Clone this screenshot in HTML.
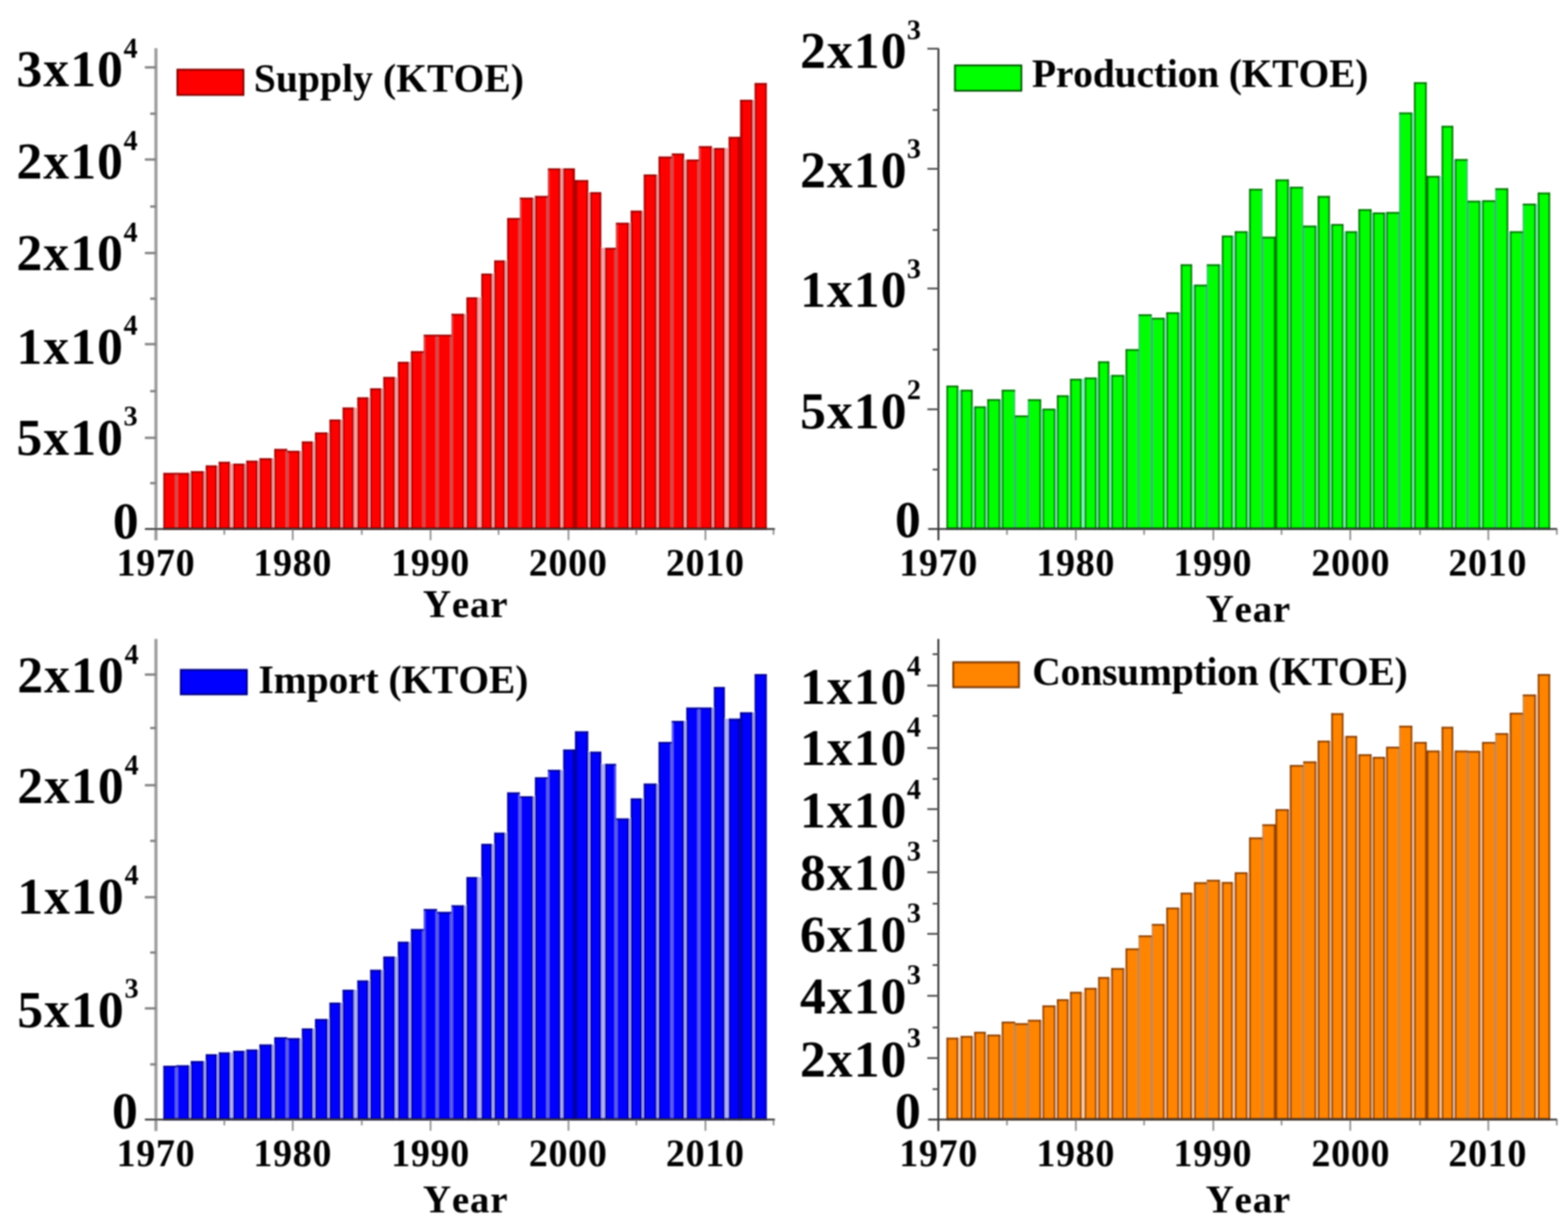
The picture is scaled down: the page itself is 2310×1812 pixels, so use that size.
<!DOCTYPE html>
<html lang="en"><head><meta charset="utf-8"><title>Energy supply, production, import and consumption (KTOE)</title>
<style>
html,body{margin:0;padding:0;background:#fff;}
body{width:2310px;height:1812px;overflow:hidden;}
svg{display:block;}
text{font-kerning:none;font-variant-ligatures:none;font-family:"Liberation Serif",serif;font-weight:bold;fill:#000;}
.yl{font-size:76px;letter-spacing:1.6px;}
.sp{font-size:41.5px;}
.xl{font-size:56px;letter-spacing:1px;text-anchor:middle;}
.ti{font-size:57.4px;letter-spacing:1.2px;text-anchor:middle;}
.lg{font-size:58.2px;}
</style></head><body>
<svg width="2310" height="1812" viewBox="0 0 2310 1812">
<defs><filter id="soft" x="0" y="0" width="2310" height="1812" filterUnits="userSpaceOnUse"><feGaussianBlur stdDeviation="0.85"/></filter><filter id="softb" x="0" y="0" width="2310" height="1812" filterUnits="userSpaceOnUse"><feGaussianBlur stdDeviation="0.8"/></filter></defs>
<rect x="0" y="0" width="2310" height="1812" fill="#ffffff"/>
<g id="c1">
<g filter="url(#softb)">
<g fill="#ffa0a0">
<rect x="278.75" y="696.75" width="2.5" height="82.55"/>
<rect x="300" y="694.25" width="3.25" height="85.05"/>
<rect x="319.25" y="685.75" width="3.25" height="93.55"/>
<rect x="338.75" y="683" width="5" height="96.3"/>
<rect x="360" y="683" width="3" height="96.3"/>
<rect x="379.25" y="678.75" width="3.25" height="100.55"/>
<rect x="400.75" y="675" width="3.5" height="104.3"/>
<rect x="441.25" y="664.25" width="3.75" height="115.05"/>
<rect x="460.75" y="650.5" width="3.5" height="128.8"/>
<rect x="482.5" y="637" width="3.25" height="142.3"/>
<rect x="501.75" y="618" width="3.25" height="161.3"/>
<rect x="521" y="600.5" width="5.75" height="178.8"/>
<rect x="542.5" y="585.5" width="3.25" height="193.8"/>
<rect x="561.75" y="572" width="3.25" height="207.3"/>
<rect x="581.75" y="555.5" width="4.5" height="223.8"/>
<rect x="602" y="533" width="3.75" height="246.3"/>
<rect x="683.75" y="462.5" width="3.75" height="316.8"/>
<rect x="703" y="438" width="6.25" height="341.3"/>
<rect x="724.5" y="403" width="3.75" height="376.3"/>
<rect x="743.75" y="383.75" width="3.75" height="395.55"/>
<rect x="785" y="291.25" width="3.25" height="488.05"/>
<rect x="825.5" y="248" width="4.5" height="531.3"/>
<rect x="866.25" y="283.25" width="3.25" height="496.05"/>
<rect x="885.5" y="365" width="5.75" height="414.3"/>
<rect x="926.25" y="328.25" width="3.25" height="451.05"/>
<rect x="945.5" y="310.5" width="3.25" height="468.8"/>
<rect x="967" y="257" width="3.5" height="522.3"/>
<rect x="1007.5" y="235" width="3.75" height="544.3"/>
<rect x="1048.75" y="218" width="3.25" height="561.3"/>
<rect x="1067.5" y="218" width="6.25" height="561.3"/>
<rect x="1108.75" y="147" width="3.25" height="632.3"/>
</g>
<g fill="#ff0000">
<rect x="240.75" y="696.75" width="19.12" height="82.55"/>
<rect x="259.88" y="696.75" width="19.07" height="82.55"/>
<rect x="281.05" y="694.25" width="19.15" height="85.05"/>
<rect x="303.05" y="685.75" width="16.4" height="93.55"/>
<rect x="322.3" y="680.5" width="16.65" height="98.8"/>
<rect x="343.55" y="683" width="16.65" height="96.3"/>
<rect x="362.8" y="678.75" width="16.65" height="100.55"/>
<rect x="382.3" y="675" width="18.65" height="104.3"/>
<rect x="404.05" y="661.5" width="19.07" height="117.8"/>
<rect x="423.12" y="664.25" width="18.32" height="115.05"/>
<rect x="444.8" y="650.5" width="16.15" height="128.8"/>
<rect x="464.05" y="637" width="18.65" height="142.3"/>
<rect x="485.55" y="618" width="16.4" height="161.3"/>
<rect x="504.8" y="600.5" width="16.4" height="178.8"/>
<rect x="526.55" y="585.5" width="16.15" height="193.8"/>
<rect x="545.55" y="572" width="16.4" height="207.3"/>
<rect x="564.8" y="555.5" width="17.15" height="223.8"/>
<rect x="586.05" y="533" width="16.15" height="246.3"/>
<rect x="605.55" y="517.5" width="18.83" height="261.8"/>
<rect x="624.38" y="493" width="19.62" height="286.3"/>
<rect x="644" y="493" width="21.12" height="286.3"/>
<rect x="665.12" y="462.5" width="18.83" height="316.8"/>
<rect x="687.3" y="438" width="15.9" height="341.3"/>
<rect x="709.05" y="403" width="15.65" height="376.3"/>
<rect x="728.05" y="383.75" width="15.9" height="395.55"/>
<rect x="747.3" y="321.25" width="18.58" height="458.05"/>
<rect x="765.88" y="291.25" width="19.33" height="488.05"/>
<rect x="788.05" y="288.75" width="19.08" height="490.55"/>
<rect x="807.12" y="248" width="18.58" height="531.3"/>
<rect x="829.8" y="248" width="17.2" height="531.3"/>
<rect x="847" y="265.5" width="19.45" height="513.8"/>
<rect x="869.3" y="283.25" width="16.4" height="496.05"/>
<rect x="891.05" y="365" width="16.45" height="414.3"/>
<rect x="907.5" y="328.25" width="18.95" height="451.05"/>
<rect x="929.3" y="310.5" width="16.4" height="468.8"/>
<rect x="948.55" y="257" width="18.65" height="522.3"/>
<rect x="970.3" y="230.75" width="19.45" height="548.55"/>
<rect x="989.75" y="226.25" width="17.95" height="553.05"/>
<rect x="1011.05" y="235" width="18.58" height="544.3"/>
<rect x="1029.62" y="215.5" width="19.33" height="563.8"/>
<rect x="1051.8" y="218" width="15.9" height="561.3"/>
<rect x="1073.55" y="201.75" width="16.83" height="577.55"/>
<rect x="1090.38" y="147" width="18.58" height="632.3"/>
<rect x="1111.8" y="122.5" width="17.7" height="656.8"/>
</g>
<g fill="#d05050" opacity="0.9">
<rect x="257.68" y="696.75" width="4.4" height="82.55"/>
<rect x="420.93" y="664.25" width="4.4" height="115.05"/>
<rect x="420.93" y="661.5" width="2.2" height="2.75"/>
<rect x="622.17" y="517.5" width="4.4" height="261.8"/>
<rect x="624.38" y="493" width="2.2" height="24.5"/>
<rect x="641.8" y="493" width="4.4" height="286.3"/>
<rect x="662.92" y="493" width="4.4" height="286.3"/>
<rect x="665.12" y="462.5" width="2.2" height="30.5"/>
<rect x="763.67" y="321.25" width="4.4" height="458.05"/>
<rect x="765.88" y="291.25" width="2.2" height="30"/>
<rect x="804.92" y="288.75" width="4.4" height="490.55"/>
<rect x="807.12" y="248" width="2.2" height="40.75"/>
<rect x="905.3" y="365" width="4.4" height="414.3"/>
<rect x="907.5" y="328.25" width="2.2" height="36.75"/>
<rect x="987.55" y="230.75" width="4.4" height="548.55"/>
<rect x="989.75" y="226.25" width="2.2" height="4.5"/>
<rect x="1027.42" y="235" width="4.4" height="544.3"/>
<rect x="1029.62" y="215.5" width="2.2" height="19.5"/>
</g>
<g fill="#960000">
<rect x="843.4" y="265.5" width="7.2" height="513.8" opacity="0.7"/>
<rect x="843.4" y="248" width="3.6" height="17.5" opacity="0.7"/>
<rect x="1086.78" y="201.75" width="7.2" height="577.55" opacity="0.7"/>
<rect x="1090.38" y="147" width="3.6" height="54.75" opacity="0.7"/>
<rect x="240.75" y="696.75" width="2.4" height="82.55" opacity="0.9"/>
<rect x="240.75" y="696.75" width="19.12" height="2.6" opacity="0.95"/>
<rect x="276.55" y="696.75" width="2.4" height="82.55" opacity="0.9"/>
<rect x="259.88" y="696.75" width="19.07" height="2.6" opacity="0.95"/>
<rect x="281.05" y="694.25" width="2.4" height="85.05" opacity="0.9"/>
<rect x="297.8" y="694.25" width="2.4" height="85.05" opacity="0.9"/>
<rect x="281.05" y="694.25" width="19.15" height="2.6" opacity="0.95"/>
<rect x="303.05" y="685.75" width="2.4" height="93.55" opacity="0.9"/>
<rect x="317.05" y="685.75" width="2.4" height="93.55" opacity="0.9"/>
<rect x="303.05" y="685.75" width="16.4" height="2.6" opacity="0.95"/>
<rect x="322.3" y="680.5" width="2.4" height="98.8" opacity="0.9"/>
<rect x="336.55" y="680.5" width="2.4" height="98.8" opacity="0.9"/>
<rect x="322.3" y="680.5" width="16.65" height="2.6" opacity="0.95"/>
<rect x="343.55" y="683" width="2.4" height="96.3" opacity="0.9"/>
<rect x="357.8" y="683" width="2.4" height="96.3" opacity="0.9"/>
<rect x="343.55" y="683" width="16.65" height="2.6" opacity="0.95"/>
<rect x="362.8" y="678.75" width="2.4" height="100.55" opacity="0.9"/>
<rect x="377.05" y="678.75" width="2.4" height="100.55" opacity="0.9"/>
<rect x="362.8" y="678.75" width="16.65" height="2.6" opacity="0.95"/>
<rect x="382.3" y="675" width="2.4" height="104.3" opacity="0.9"/>
<rect x="398.55" y="675" width="2.4" height="104.3" opacity="0.9"/>
<rect x="382.3" y="675" width="18.65" height="2.6" opacity="0.95"/>
<rect x="404.05" y="661.5" width="2.4" height="117.8" opacity="0.9"/>
<rect x="404.05" y="661.5" width="19.07" height="2.6" opacity="0.95"/>
<rect x="439.05" y="664.25" width="2.4" height="115.05" opacity="0.9"/>
<rect x="423.12" y="664.25" width="18.32" height="2.6" opacity="0.95"/>
<rect x="444.8" y="650.5" width="2.4" height="128.8" opacity="0.9"/>
<rect x="458.55" y="650.5" width="2.4" height="128.8" opacity="0.9"/>
<rect x="444.8" y="650.5" width="16.15" height="2.6" opacity="0.95"/>
<rect x="464.05" y="637" width="2.4" height="142.3" opacity="0.9"/>
<rect x="480.3" y="637" width="2.4" height="142.3" opacity="0.9"/>
<rect x="464.05" y="637" width="18.65" height="2.6" opacity="0.95"/>
<rect x="485.55" y="618" width="2.4" height="161.3" opacity="0.9"/>
<rect x="499.55" y="618" width="2.4" height="161.3" opacity="0.9"/>
<rect x="485.55" y="618" width="16.4" height="2.6" opacity="0.95"/>
<rect x="504.8" y="600.5" width="2.4" height="178.8" opacity="0.9"/>
<rect x="518.8" y="600.5" width="2.4" height="178.8" opacity="0.9"/>
<rect x="504.8" y="600.5" width="16.4" height="2.6" opacity="0.95"/>
<rect x="526.55" y="585.5" width="2.4" height="193.8" opacity="0.9"/>
<rect x="540.3" y="585.5" width="2.4" height="193.8" opacity="0.9"/>
<rect x="526.55" y="585.5" width="16.15" height="2.6" opacity="0.95"/>
<rect x="545.55" y="572" width="2.4" height="207.3" opacity="0.9"/>
<rect x="559.55" y="572" width="2.4" height="207.3" opacity="0.9"/>
<rect x="545.55" y="572" width="16.4" height="2.6" opacity="0.95"/>
<rect x="564.8" y="555.5" width="2.4" height="223.8" opacity="0.9"/>
<rect x="579.55" y="555.5" width="2.4" height="223.8" opacity="0.9"/>
<rect x="564.8" y="555.5" width="17.15" height="2.6" opacity="0.95"/>
<rect x="586.05" y="533" width="2.4" height="246.3" opacity="0.9"/>
<rect x="599.8" y="533" width="2.4" height="246.3" opacity="0.9"/>
<rect x="586.05" y="533" width="16.15" height="2.6" opacity="0.95"/>
<rect x="605.55" y="517.5" width="2.4" height="261.8" opacity="0.9"/>
<rect x="605.55" y="517.5" width="18.83" height="2.6" opacity="0.95"/>
<rect x="624.38" y="493" width="19.62" height="2.6" opacity="0.95"/>
<rect x="644" y="493" width="21.12" height="2.6" opacity="0.95"/>
<rect x="681.55" y="462.5" width="2.4" height="316.8" opacity="0.9"/>
<rect x="665.12" y="462.5" width="18.83" height="2.6" opacity="0.95"/>
<rect x="687.3" y="438" width="2.4" height="341.3" opacity="0.9"/>
<rect x="700.8" y="438" width="2.4" height="341.3" opacity="0.9"/>
<rect x="687.3" y="438" width="15.9" height="2.6" opacity="0.95"/>
<rect x="709.05" y="403" width="2.4" height="376.3" opacity="0.9"/>
<rect x="722.3" y="403" width="2.4" height="376.3" opacity="0.9"/>
<rect x="709.05" y="403" width="15.65" height="2.6" opacity="0.95"/>
<rect x="728.05" y="383.75" width="2.4" height="395.55" opacity="0.9"/>
<rect x="741.55" y="383.75" width="2.4" height="395.55" opacity="0.9"/>
<rect x="728.05" y="383.75" width="15.9" height="2.6" opacity="0.95"/>
<rect x="747.3" y="321.25" width="2.4" height="458.05" opacity="0.9"/>
<rect x="747.3" y="321.25" width="18.58" height="2.6" opacity="0.95"/>
<rect x="782.8" y="291.25" width="2.4" height="488.05" opacity="0.9"/>
<rect x="765.88" y="291.25" width="19.33" height="2.6" opacity="0.95"/>
<rect x="788.05" y="288.75" width="2.4" height="490.55" opacity="0.9"/>
<rect x="788.05" y="288.75" width="19.08" height="2.6" opacity="0.95"/>
<rect x="823.3" y="248" width="2.4" height="531.3" opacity="0.9"/>
<rect x="807.12" y="248" width="18.58" height="2.6" opacity="0.95"/>
<rect x="829.8" y="248" width="2.4" height="531.3" opacity="0.9"/>
<rect x="829.8" y="248" width="17.2" height="2.6" opacity="0.95"/>
<rect x="864.05" y="265.5" width="2.4" height="513.8" opacity="0.9"/>
<rect x="847" y="265.5" width="19.45" height="2.6" opacity="0.95"/>
<rect x="869.3" y="283.25" width="2.4" height="496.05" opacity="0.9"/>
<rect x="883.3" y="283.25" width="2.4" height="496.05" opacity="0.9"/>
<rect x="869.3" y="283.25" width="16.4" height="2.6" opacity="0.95"/>
<rect x="891.05" y="365" width="2.4" height="414.3" opacity="0.9"/>
<rect x="891.05" y="365" width="16.45" height="2.6" opacity="0.95"/>
<rect x="924.05" y="328.25" width="2.4" height="451.05" opacity="0.9"/>
<rect x="907.5" y="328.25" width="18.95" height="2.6" opacity="0.95"/>
<rect x="929.3" y="310.5" width="2.4" height="468.8" opacity="0.9"/>
<rect x="943.3" y="310.5" width="2.4" height="468.8" opacity="0.9"/>
<rect x="929.3" y="310.5" width="16.4" height="2.6" opacity="0.95"/>
<rect x="948.55" y="257" width="2.4" height="522.3" opacity="0.9"/>
<rect x="964.8" y="257" width="2.4" height="522.3" opacity="0.9"/>
<rect x="948.55" y="257" width="18.65" height="2.6" opacity="0.95"/>
<rect x="970.3" y="230.75" width="2.4" height="548.55" opacity="0.9"/>
<rect x="970.3" y="230.75" width="19.45" height="2.6" opacity="0.95"/>
<rect x="1005.3" y="226.25" width="2.4" height="553.05" opacity="0.9"/>
<rect x="989.75" y="226.25" width="17.95" height="2.6" opacity="0.95"/>
<rect x="1011.05" y="235" width="2.4" height="544.3" opacity="0.9"/>
<rect x="1011.05" y="235" width="18.58" height="2.6" opacity="0.95"/>
<rect x="1046.55" y="215.5" width="2.4" height="563.8" opacity="0.9"/>
<rect x="1029.62" y="215.5" width="19.33" height="2.6" opacity="0.95"/>
<rect x="1051.8" y="218" width="2.4" height="561.3" opacity="0.9"/>
<rect x="1065.3" y="218" width="2.4" height="561.3" opacity="0.9"/>
<rect x="1051.8" y="218" width="15.9" height="2.6" opacity="0.95"/>
<rect x="1073.55" y="201.75" width="2.4" height="577.55" opacity="0.9"/>
<rect x="1073.55" y="201.75" width="16.83" height="2.6" opacity="0.95"/>
<rect x="1106.55" y="147" width="2.4" height="632.3" opacity="0.9"/>
<rect x="1090.38" y="147" width="18.58" height="2.6" opacity="0.95"/>
<rect x="1111.8" y="122.5" width="2.4" height="656.8" opacity="0.9"/>
<rect x="1127.1" y="122.5" width="2.4" height="656.8" opacity="0.9"/>
<rect x="1111.8" y="122.5" width="17.7" height="2.6" opacity="0.95"/>
<rect x="240.75" y="776.9" width="888.75" height="2.4" opacity="0.85"/>
</g>
<rect x="261.5" y="102.75" width="97" height="37" fill="#ff0000" stroke="#8a0000" stroke-width="3"/>
</g>
<g filter="url(#soft)">
<g stroke="#9c9c9c" stroke-width="4.6">
<line x1="229.75" y1="71" x2="229.75" y2="796"/>
</g>
<g stroke="#808080" stroke-width="3.4">
<line x1="213.45" y1="99.25" x2="229.75" y2="99.25"/>
<line x1="213.45" y1="235" x2="229.75" y2="235"/>
<line x1="213.45" y1="372.75" x2="229.75" y2="372.75"/>
<line x1="213.45" y1="507" x2="229.75" y2="507"/>
<line x1="213.45" y1="645" x2="229.75" y2="645"/>
<line x1="221.25" y1="167.5" x2="229.75" y2="167.5"/>
<line x1="221.25" y1="304.25" x2="229.75" y2="304.25"/>
<line x1="221.25" y1="440" x2="229.75" y2="440"/>
<line x1="221.25" y1="576.25" x2="229.75" y2="576.25"/>
<line x1="221.25" y1="711.75" x2="229.75" y2="711.75"/>
</g>
<g stroke="#8a8a8a" stroke-width="2.4">
<line x1="330.5" y1="779.3" x2="330.5" y2="787.8"/>
<line x1="431.25" y1="779.3" x2="431.25" y2="795.8"/>
<line x1="533" y1="779.3" x2="533" y2="787.8"/>
<line x1="634.25" y1="779.3" x2="634.25" y2="795.8"/>
<line x1="734.5" y1="779.3" x2="734.5" y2="787.8"/>
<line x1="837.5" y1="779.3" x2="837.5" y2="795.8"/>
<line x1="937.5" y1="779.3" x2="937.5" y2="787.8"/>
<line x1="1039.25" y1="779.3" x2="1039.25" y2="795.8"/>
<line x1="1139.6" y1="779.3" x2="1139.6" y2="787.8"/>
</g>
<line x1="213.5" y1="779.3" x2="1141.5" y2="779.3" stroke="#2a2a2a" stroke-width="2.6"/>
<text class="yl" x="24.2" y="127">3x10</text><text class="sp" x="182" y="84.5">4</text>
<text class="yl" x="24.2" y="263.25">2x10</text><text class="sp" x="182" y="220.75">4</text>
<text class="yl" x="24.2" y="398.25">2x10</text><text class="sp" x="182" y="355.75">4</text>
<text class="yl" x="24.2" y="535.75">1x10</text><text class="sp" x="182" y="493.25">4</text>
<text class="yl" x="24.2" y="669.5">5x10</text><text class="sp" x="182" y="627">3</text>
<text class="yl" x="166.2" y="793">0</text>
<text class="xl" x="229.65" y="848.2">1970</text>
<text class="xl" x="431.15" y="848.2">1980</text>
<text class="xl" x="634.15" y="848.2">1990</text>
<text class="xl" x="836.9" y="848.2">2000</text>
<text class="xl" x="1038.9" y="848.2">2010</text>
<text class="ti" x="686" y="909.2">Year</text>
<text class="lg" x="374" y="135" textLength="397.9" lengthAdjust="spacing">Supply (KTOE)</text>
</g>
</g>
<g id="c2">
<g filter="url(#softb)">
<g fill="#7affb0">
<rect x="1411.45" y="574.25" width="4.1" height="205.05"/>
<rect x="1432.7" y="598.75" width="2.85" height="180.55"/>
<rect x="1451.95" y="598.75" width="2.85" height="180.55"/>
<rect x="1473.45" y="588" width="2.6" height="191.3"/>
<rect x="1533.45" y="602" width="2.6" height="177.3"/>
<rect x="1554.7" y="602" width="2.6" height="177.3"/>
<rect x="1573.95" y="582.5" width="2.85" height="196.8"/>
<rect x="1593.2" y="558" width="4.85" height="221.3"/>
<rect x="1615.2" y="556.25" width="2.85" height="223.05"/>
<rect x="1633.95" y="552.5" width="3.35" height="226.8"/>
<rect x="1655.95" y="552.5" width="2.6" height="226.8"/>
<rect x="1715.7" y="468.25" width="2.85" height="311.05"/>
<rect x="1736.95" y="460" width="2.85" height="319.3"/>
<rect x="1755.95" y="419.5" width="3.35" height="359.8"/>
<rect x="1796.95" y="389.5" width="3.35" height="389.8"/>
<rect x="1815.95" y="347" width="3.35" height="432.3"/>
<rect x="1837.7" y="340.75" width="2.85" height="438.55"/>
<rect x="1898.45" y="275.25" width="2.1" height="504.05"/>
<rect x="1938.95" y="332.5" width="2.6" height="446.8"/>
<rect x="1958.95" y="330" width="2.6" height="449.3"/>
<rect x="1978.95" y="340.75" width="3.35" height="438.55"/>
<rect x="1998.95" y="340.75" width="2.6" height="438.55"/>
<rect x="2020.2" y="313" width="2.6" height="466.3"/>
<rect x="2040.2" y="313" width="2.1" height="466.3"/>
<rect x="2080.2" y="165.75" width="3.1" height="613.55"/>
<rect x="2120.7" y="259.25" width="3.35" height="520.05"/>
<rect x="2140.7" y="234.5" width="2.6" height="544.8"/>
<rect x="2180.7" y="295.75" width="3.1" height="483.55"/>
<rect x="2221.7" y="340.75" width="2.85" height="438.55"/>
<rect x="2262.45" y="300" width="3.35" height="479.3"/>
</g>
<g fill="#00ff00">
<rect x="1394.5" y="568" width="17.15" height="211.3"/>
<rect x="1415.35" y="574.25" width="17.55" height="205.05"/>
<rect x="1435.35" y="598.75" width="16.8" height="180.55"/>
<rect x="1454.6" y="588" width="19.05" height="191.3"/>
<rect x="1475.85" y="574.25" width="19.53" height="205.05"/>
<rect x="1495.38" y="612" width="19" height="167.3"/>
<rect x="1514.38" y="588.25" width="19.28" height="191.05"/>
<rect x="1535.85" y="602" width="19.05" height="177.3"/>
<rect x="1557.1" y="582.5" width="17.05" height="196.8"/>
<rect x="1576.6" y="558" width="16.8" height="221.3"/>
<rect x="1597.85" y="556.25" width="17.55" height="223.05"/>
<rect x="1617.85" y="532.5" width="16.3" height="246.8"/>
<rect x="1637.1" y="552.5" width="19.05" height="226.8"/>
<rect x="1658.35" y="514.5" width="19.15" height="264.8"/>
<rect x="1677.5" y="463" width="19.38" height="316.3"/>
<rect x="1696.88" y="468.25" width="19.03" height="311.05"/>
<rect x="1718.35" y="460" width="18.8" height="319.3"/>
<rect x="1739.6" y="389.5" width="16.55" height="389.8"/>
<rect x="1759.1" y="419.5" width="18.78" height="359.8"/>
<rect x="1777.88" y="389.5" width="19.28" height="389.8"/>
<rect x="1800.1" y="347" width="16.05" height="432.3"/>
<rect x="1819.1" y="340.75" width="18.8" height="438.55"/>
<rect x="1840.35" y="278.25" width="19.4" height="501.05"/>
<rect x="1859.75" y="348.75" width="19.38" height="430.55"/>
<rect x="1879.12" y="264.5" width="19.53" height="514.8"/>
<rect x="1900.35" y="275.25" width="19.53" height="504.05"/>
<rect x="1919.88" y="332.5" width="19.28" height="446.8"/>
<rect x="1941.35" y="288.75" width="17.8" height="490.55"/>
<rect x="1961.35" y="330" width="17.8" height="449.3"/>
<rect x="1982.1" y="340.75" width="17.05" height="438.55"/>
<rect x="2001.35" y="308.25" width="19.05" height="471.05"/>
<rect x="2022.6" y="313" width="17.8" height="466.3"/>
<rect x="2042.1" y="312.5" width="19.28" height="466.8"/>
<rect x="2061.38" y="165.75" width="19.03" height="613.55"/>
<rect x="2083.1" y="121.25" width="18.78" height="658.05"/>
<rect x="2101.88" y="259.25" width="19.03" height="520.05"/>
<rect x="2123.85" y="185.5" width="17.05" height="593.8"/>
<rect x="2143.1" y="234.5" width="19.03" height="544.8"/>
<rect x="2162.12" y="295.75" width="18.78" height="483.55"/>
<rect x="2183.6" y="295" width="19.28" height="484.3"/>
<rect x="2202.88" y="277.5" width="19.03" height="501.8"/>
<rect x="2224.35" y="340.75" width="19.15" height="438.55"/>
<rect x="2243.5" y="300" width="19.15" height="479.3"/>
<rect x="2265.6" y="283.75" width="17.9" height="495.55"/>
</g>
<g fill="#30c060" opacity="0.9">
<rect x="1493.17" y="612" width="4.4" height="167.3"/>
<rect x="1493.17" y="574.25" width="2.2" height="37.75"/>
<rect x="1512.17" y="612" width="4.4" height="167.3"/>
<rect x="1514.38" y="588.25" width="2.2" height="23.75"/>
<rect x="1675.3" y="514.5" width="4.4" height="264.8"/>
<rect x="1677.5" y="463" width="2.2" height="51.5"/>
<rect x="1694.67" y="468.25" width="4.4" height="311.05"/>
<rect x="1694.67" y="463" width="2.2" height="5.25"/>
<rect x="1775.67" y="419.5" width="4.4" height="359.8"/>
<rect x="1777.88" y="389.5" width="2.2" height="30"/>
<rect x="1857.55" y="348.75" width="4.4" height="430.55"/>
<rect x="1857.55" y="278.25" width="2.2" height="70.5"/>
<rect x="1917.67" y="332.5" width="4.4" height="446.8"/>
<rect x="1917.67" y="275.25" width="2.2" height="57.25"/>
<rect x="2059.18" y="312.5" width="4.4" height="466.8"/>
<rect x="2061.38" y="165.75" width="2.2" height="146.75"/>
<rect x="2159.93" y="295.75" width="4.4" height="483.55"/>
<rect x="2159.93" y="234.5" width="2.2" height="61.25"/>
<rect x="2200.68" y="295" width="4.4" height="484.3"/>
<rect x="2202.88" y="277.5" width="2.2" height="17.5"/>
<rect x="2241.3" y="340.75" width="4.4" height="438.55"/>
<rect x="2243.5" y="300" width="2.2" height="40.75"/>
</g>
<g fill="#006800">
<rect x="1876.53" y="348.75" width="5.2" height="430.55" opacity="0.9"/>
<rect x="1879.12" y="264.5" width="2.6" height="84.25" opacity="0.9"/>
<rect x="2099.28" y="259.25" width="5.2" height="520.05" opacity="0.9"/>
<rect x="2099.28" y="121.25" width="2.6" height="138" opacity="0.9"/>
<rect x="1394.5" y="568" width="2.4" height="211.3" opacity="1"/>
<rect x="1409.25" y="568" width="2.4" height="211.3" opacity="1"/>
<rect x="1394.5" y="568" width="17.15" height="2.6" opacity="0.95"/>
<rect x="1415.35" y="574.25" width="2.4" height="205.05" opacity="1"/>
<rect x="1430.5" y="574.25" width="2.4" height="205.05" opacity="1"/>
<rect x="1415.35" y="574.25" width="17.55" height="2.6" opacity="0.95"/>
<rect x="1435.35" y="598.75" width="2.4" height="180.55" opacity="1"/>
<rect x="1449.75" y="598.75" width="2.4" height="180.55" opacity="1"/>
<rect x="1435.35" y="598.75" width="16.8" height="2.6" opacity="0.95"/>
<rect x="1454.6" y="588" width="2.4" height="191.3" opacity="1"/>
<rect x="1471.25" y="588" width="2.4" height="191.3" opacity="1"/>
<rect x="1454.6" y="588" width="19.05" height="2.6" opacity="0.95"/>
<rect x="1475.85" y="574.25" width="2.4" height="205.05" opacity="1"/>
<rect x="1475.85" y="574.25" width="19.53" height="2.6" opacity="0.95"/>
<rect x="1495.38" y="612" width="19" height="2.6" opacity="0.95"/>
<rect x="1531.25" y="588.25" width="2.4" height="191.05" opacity="1"/>
<rect x="1514.38" y="588.25" width="19.28" height="2.6" opacity="0.95"/>
<rect x="1535.85" y="602" width="2.4" height="177.3" opacity="1"/>
<rect x="1552.5" y="602" width="2.4" height="177.3" opacity="1"/>
<rect x="1535.85" y="602" width="19.05" height="2.6" opacity="0.95"/>
<rect x="1557.1" y="582.5" width="2.4" height="196.8" opacity="1"/>
<rect x="1571.75" y="582.5" width="2.4" height="196.8" opacity="1"/>
<rect x="1557.1" y="582.5" width="17.05" height="2.6" opacity="0.95"/>
<rect x="1576.6" y="558" width="2.4" height="221.3" opacity="1"/>
<rect x="1591" y="558" width="2.4" height="221.3" opacity="1"/>
<rect x="1576.6" y="558" width="16.8" height="2.6" opacity="0.95"/>
<rect x="1597.85" y="556.25" width="2.4" height="223.05" opacity="1"/>
<rect x="1613" y="556.25" width="2.4" height="223.05" opacity="1"/>
<rect x="1597.85" y="556.25" width="17.55" height="2.6" opacity="0.95"/>
<rect x="1617.85" y="532.5" width="2.4" height="246.8" opacity="1"/>
<rect x="1631.75" y="532.5" width="2.4" height="246.8" opacity="1"/>
<rect x="1617.85" y="532.5" width="16.3" height="2.6" opacity="0.95"/>
<rect x="1637.1" y="552.5" width="2.4" height="226.8" opacity="1"/>
<rect x="1653.75" y="552.5" width="2.4" height="226.8" opacity="1"/>
<rect x="1637.1" y="552.5" width="19.05" height="2.6" opacity="0.95"/>
<rect x="1658.35" y="514.5" width="2.4" height="264.8" opacity="1"/>
<rect x="1658.35" y="514.5" width="19.15" height="2.6" opacity="0.95"/>
<rect x="1677.5" y="463" width="19.38" height="2.6" opacity="0.95"/>
<rect x="1713.5" y="468.25" width="2.4" height="311.05" opacity="1"/>
<rect x="1696.88" y="468.25" width="19.03" height="2.6" opacity="0.95"/>
<rect x="1718.35" y="460" width="2.4" height="319.3" opacity="1"/>
<rect x="1734.75" y="460" width="2.4" height="319.3" opacity="1"/>
<rect x="1718.35" y="460" width="18.8" height="2.6" opacity="0.95"/>
<rect x="1739.6" y="389.5" width="2.4" height="389.8" opacity="1"/>
<rect x="1753.75" y="389.5" width="2.4" height="389.8" opacity="1"/>
<rect x="1739.6" y="389.5" width="16.55" height="2.6" opacity="0.95"/>
<rect x="1759.1" y="419.5" width="2.4" height="359.8" opacity="1"/>
<rect x="1759.1" y="419.5" width="18.78" height="2.6" opacity="0.95"/>
<rect x="1794.75" y="389.5" width="2.4" height="389.8" opacity="1"/>
<rect x="1777.88" y="389.5" width="19.28" height="2.6" opacity="0.95"/>
<rect x="1800.1" y="347" width="2.4" height="432.3" opacity="1"/>
<rect x="1813.75" y="347" width="2.4" height="432.3" opacity="1"/>
<rect x="1800.1" y="347" width="16.05" height="2.6" opacity="0.95"/>
<rect x="1819.1" y="340.75" width="2.4" height="438.55" opacity="1"/>
<rect x="1835.5" y="340.75" width="2.4" height="438.55" opacity="1"/>
<rect x="1819.1" y="340.75" width="18.8" height="2.6" opacity="0.95"/>
<rect x="1840.35" y="278.25" width="2.4" height="501.05" opacity="1"/>
<rect x="1840.35" y="278.25" width="19.4" height="2.6" opacity="0.95"/>
<rect x="1859.75" y="348.75" width="19.38" height="2.6" opacity="0.95"/>
<rect x="1896.25" y="264.5" width="2.4" height="514.8" opacity="1"/>
<rect x="1879.12" y="264.5" width="19.53" height="2.6" opacity="0.95"/>
<rect x="1900.35" y="275.25" width="2.4" height="504.05" opacity="1"/>
<rect x="1900.35" y="275.25" width="19.53" height="2.6" opacity="0.95"/>
<rect x="1936.75" y="332.5" width="2.4" height="446.8" opacity="1"/>
<rect x="1919.88" y="332.5" width="19.28" height="2.6" opacity="0.95"/>
<rect x="1941.35" y="288.75" width="2.4" height="490.55" opacity="1"/>
<rect x="1956.75" y="288.75" width="2.4" height="490.55" opacity="1"/>
<rect x="1941.35" y="288.75" width="17.8" height="2.6" opacity="0.95"/>
<rect x="1961.35" y="330" width="2.4" height="449.3" opacity="1"/>
<rect x="1976.75" y="330" width="2.4" height="449.3" opacity="1"/>
<rect x="1961.35" y="330" width="17.8" height="2.6" opacity="0.95"/>
<rect x="1982.1" y="340.75" width="2.4" height="438.55" opacity="1"/>
<rect x="1996.75" y="340.75" width="2.4" height="438.55" opacity="1"/>
<rect x="1982.1" y="340.75" width="17.05" height="2.6" opacity="0.95"/>
<rect x="2001.35" y="308.25" width="2.4" height="471.05" opacity="1"/>
<rect x="2018" y="308.25" width="2.4" height="471.05" opacity="1"/>
<rect x="2001.35" y="308.25" width="19.05" height="2.6" opacity="0.95"/>
<rect x="2022.6" y="313" width="2.4" height="466.3" opacity="1"/>
<rect x="2038" y="313" width="2.4" height="466.3" opacity="1"/>
<rect x="2022.6" y="313" width="17.8" height="2.6" opacity="0.95"/>
<rect x="2042.1" y="312.5" width="2.4" height="466.8" opacity="1"/>
<rect x="2042.1" y="312.5" width="19.28" height="2.6" opacity="0.95"/>
<rect x="2078" y="165.75" width="2.4" height="613.55" opacity="1"/>
<rect x="2061.38" y="165.75" width="19.03" height="2.6" opacity="0.95"/>
<rect x="2083.1" y="121.25" width="2.4" height="658.05" opacity="1"/>
<rect x="2083.1" y="121.25" width="18.78" height="2.6" opacity="0.95"/>
<rect x="2118.5" y="259.25" width="2.4" height="520.05" opacity="1"/>
<rect x="2101.88" y="259.25" width="19.03" height="2.6" opacity="0.95"/>
<rect x="2123.85" y="185.5" width="2.4" height="593.8" opacity="1"/>
<rect x="2138.5" y="185.5" width="2.4" height="593.8" opacity="1"/>
<rect x="2123.85" y="185.5" width="17.05" height="2.6" opacity="0.95"/>
<rect x="2143.1" y="234.5" width="2.4" height="544.8" opacity="1"/>
<rect x="2143.1" y="234.5" width="19.03" height="2.6" opacity="0.95"/>
<rect x="2178.5" y="295.75" width="2.4" height="483.55" opacity="1"/>
<rect x="2162.12" y="295.75" width="18.78" height="2.6" opacity="0.95"/>
<rect x="2183.6" y="295" width="2.4" height="484.3" opacity="1"/>
<rect x="2183.6" y="295" width="19.28" height="2.6" opacity="0.95"/>
<rect x="2219.5" y="277.5" width="2.4" height="501.8" opacity="1"/>
<rect x="2202.88" y="277.5" width="19.03" height="2.6" opacity="0.95"/>
<rect x="2224.35" y="340.75" width="2.4" height="438.55" opacity="1"/>
<rect x="2224.35" y="340.75" width="19.15" height="2.6" opacity="0.95"/>
<rect x="2260.25" y="300" width="2.4" height="479.3" opacity="1"/>
<rect x="2243.5" y="300" width="19.15" height="2.6" opacity="0.95"/>
<rect x="2265.6" y="283.75" width="2.4" height="495.55" opacity="1"/>
<rect x="2281.1" y="283.75" width="2.4" height="495.55" opacity="1"/>
<rect x="2265.6" y="283.75" width="17.9" height="2.6" opacity="0.95"/>
<rect x="1394.5" y="776.9" width="889" height="2.4" opacity="0.85"/>
</g>
<rect x="1407" y="96.5" width="97.5" height="37" fill="#00ff00" stroke="#005a00" stroke-width="3"/>
</g>
<g filter="url(#soft)">
<g stroke="#000000" stroke-width="2.2">
<line x1="1382.5" y1="71" x2="1382.5" y2="796"/>
</g>
<g stroke="#404040" stroke-width="2.5">
<line x1="1366.2" y1="71.75" x2="1382.5" y2="71.75"/>
<line x1="1366.2" y1="248.75" x2="1382.5" y2="248.75"/>
<line x1="1366.2" y1="425" x2="1382.5" y2="425"/>
<line x1="1366.2" y1="603" x2="1382.5" y2="603"/>
<line x1="1374" y1="162" x2="1382.5" y2="162"/>
<line x1="1374" y1="338.75" x2="1382.5" y2="338.75"/>
<line x1="1374" y1="515" x2="1382.5" y2="515"/>
<line x1="1374" y1="691.75" x2="1382.5" y2="691.75"/>
</g>
<g stroke="#8a8a8a" stroke-width="2.4">
<line x1="1483.5" y1="779.3" x2="1483.5" y2="787.8"/>
<line x1="1585" y1="779.3" x2="1585" y2="795.8"/>
<line x1="1685.5" y1="779.3" x2="1685.5" y2="787.8"/>
<line x1="1787.5" y1="779.3" x2="1787.5" y2="795.8"/>
<line x1="1888" y1="779.3" x2="1888" y2="787.8"/>
<line x1="1989.2" y1="779.3" x2="1989.2" y2="795.8"/>
<line x1="2092" y1="779.3" x2="2092" y2="787.8"/>
<line x1="2192.6" y1="779.3" x2="2192.6" y2="795.8"/>
<line x1="2293.5" y1="779.3" x2="2293.5" y2="787.8"/>
</g>
<line x1="1367.4" y1="779.3" x2="2294" y2="779.3" stroke="#2a2a2a" stroke-width="2.6"/>
<text class="yl" x="1178.65" y="100.25">2x10</text><text class="sp" x="1336" y="57.75">3</text>
<text class="yl" x="1178.65" y="275.75">2x10</text><text class="sp" x="1336" y="233.25">3</text>
<text class="yl" x="1178.65" y="452">1x10</text><text class="sp" x="1336" y="409.5">3</text>
<text class="yl" x="1178.65" y="630.75">5x10</text><text class="sp" x="1336" y="588.25">2</text>
<text class="yl" x="1318.4" y="790.5">0</text>
<text class="xl" x="1382.8" y="848.2">1970</text>
<text class="xl" x="1584.8" y="848.2">1980</text>
<text class="xl" x="1786.7" y="848.2">1990</text>
<text class="xl" x="1989.9" y="848.2">2000</text>
<text class="xl" x="2191.7" y="848.2">2010</text>
<text class="ti" x="1839.1" y="916">Year</text>
<text class="lg" x="1520.2" y="128" textLength="495.7" lengthAdjust="spacing">Production (KTOE)</text>
</g>
</g>
<g id="c3">
<g filter="url(#softb)">
<g fill="#b0b0ff">
<rect x="278.75" y="1569.5" width="2.5" height="79.8"/>
<rect x="300" y="1563.25" width="3.25" height="86.05"/>
<rect x="319.25" y="1553" width="3.25" height="96.3"/>
<rect x="338.75" y="1550.5" width="5" height="98.8"/>
<rect x="360" y="1548" width="3" height="101.3"/>
<rect x="379.25" y="1546.25" width="3.25" height="103.05"/>
<rect x="400.75" y="1538.75" width="3.5" height="110.55"/>
<rect x="441.25" y="1529.5" width="3.75" height="119.8"/>
<rect x="460.75" y="1515" width="3.5" height="134.3"/>
<rect x="482.5" y="1501.25" width="3.25" height="148.05"/>
<rect x="501.75" y="1477" width="3.25" height="172.3"/>
<rect x="521" y="1458" width="5.75" height="191.3"/>
<rect x="542.5" y="1444.5" width="3.25" height="204.8"/>
<rect x="561.75" y="1428.75" width="3.25" height="220.55"/>
<rect x="581.75" y="1409.25" width="4.5" height="240.05"/>
<rect x="602" y="1387.5" width="3.75" height="261.8"/>
<rect x="683.75" y="1333.75" width="3.75" height="315.55"/>
<rect x="703" y="1292" width="6.25" height="357.3"/>
<rect x="724.5" y="1243.25" width="3.75" height="406.05"/>
<rect x="743.75" y="1226.75" width="3.75" height="422.55"/>
<rect x="785" y="1173" width="3.25" height="476.3"/>
<rect x="825.5" y="1134.25" width="4.5" height="515.05"/>
<rect x="866.25" y="1107.5" width="3.25" height="541.8"/>
<rect x="885.5" y="1125.5" width="5.75" height="523.8"/>
<rect x="926.25" y="1205.75" width="3.25" height="443.55"/>
<rect x="945.5" y="1176.25" width="3.25" height="473.05"/>
<rect x="967" y="1154.5" width="3.5" height="494.8"/>
<rect x="1007.5" y="1062" width="3.75" height="587.3"/>
<rect x="1048.75" y="1042.5" width="3.25" height="606.8"/>
<rect x="1067.5" y="1058.75" width="6.25" height="590.55"/>
<rect x="1108.75" y="1049.5" width="3.25" height="599.8"/>
</g>
<g fill="#0000ff">
<rect x="240.75" y="1570" width="19.12" height="79.3"/>
<rect x="259.88" y="1569.5" width="19.07" height="79.8"/>
<rect x="281.05" y="1563.25" width="19.15" height="86.05"/>
<rect x="303.05" y="1553" width="16.4" height="96.3"/>
<rect x="322.3" y="1550.5" width="16.65" height="98.8"/>
<rect x="343.55" y="1548" width="16.65" height="101.3"/>
<rect x="362.8" y="1546.25" width="16.65" height="103.05"/>
<rect x="382.3" y="1538.75" width="18.65" height="110.55"/>
<rect x="404.05" y="1528" width="19.07" height="121.3"/>
<rect x="423.12" y="1529.5" width="18.32" height="119.8"/>
<rect x="444.8" y="1515" width="16.15" height="134.3"/>
<rect x="464.05" y="1501.25" width="18.65" height="148.05"/>
<rect x="485.55" y="1477" width="16.4" height="172.3"/>
<rect x="504.8" y="1458" width="16.4" height="191.3"/>
<rect x="526.55" y="1444.5" width="16.15" height="204.8"/>
<rect x="545.55" y="1428.75" width="16.4" height="220.55"/>
<rect x="564.8" y="1409.25" width="17.15" height="240.05"/>
<rect x="586.05" y="1387.5" width="16.15" height="261.8"/>
<rect x="605.55" y="1368.75" width="18.83" height="280.55"/>
<rect x="624.38" y="1339.25" width="19.62" height="310.05"/>
<rect x="644" y="1343.5" width="21.12" height="305.8"/>
<rect x="665.12" y="1333.75" width="18.83" height="315.55"/>
<rect x="687.3" y="1292" width="15.9" height="357.3"/>
<rect x="709.05" y="1243.25" width="15.65" height="406.05"/>
<rect x="728.05" y="1226.75" width="15.9" height="422.55"/>
<rect x="747.3" y="1167.5" width="18.58" height="481.8"/>
<rect x="765.88" y="1173" width="19.33" height="476.3"/>
<rect x="788.05" y="1145" width="19.08" height="504.3"/>
<rect x="807.12" y="1134.25" width="18.58" height="515.05"/>
<rect x="829.8" y="1104.25" width="17.2" height="545.05"/>
<rect x="847" y="1077.5" width="19.45" height="571.8"/>
<rect x="869.3" y="1107.5" width="16.4" height="541.8"/>
<rect x="891.05" y="1125.5" width="16.45" height="523.8"/>
<rect x="907.5" y="1205.75" width="18.95" height="443.55"/>
<rect x="929.3" y="1176.25" width="16.4" height="473.05"/>
<rect x="948.55" y="1154.5" width="18.65" height="494.8"/>
<rect x="970.3" y="1093" width="19.45" height="556.3"/>
<rect x="989.75" y="1062" width="17.95" height="587.3"/>
<rect x="1011.05" y="1042.5" width="18.58" height="606.8"/>
<rect x="1029.62" y="1042.5" width="19.33" height="606.8"/>
<rect x="1051.8" y="1012" width="15.9" height="637.3"/>
<rect x="1073.55" y="1058.75" width="16.83" height="590.55"/>
<rect x="1090.38" y="1049.5" width="18.58" height="599.8"/>
<rect x="1111.8" y="993" width="17.7" height="656.3"/>
</g>
<g fill="#6868e0" opacity="0.9">
<rect x="257.68" y="1570" width="4.4" height="79.3"/>
<rect x="259.88" y="1569.5" width="2.2" height="0.5"/>
<rect x="420.93" y="1529.5" width="4.4" height="119.8"/>
<rect x="420.93" y="1528" width="2.2" height="1.5"/>
<rect x="622.17" y="1368.75" width="4.4" height="280.55"/>
<rect x="624.38" y="1339.25" width="2.2" height="29.5"/>
<rect x="641.8" y="1343.5" width="4.4" height="305.8"/>
<rect x="641.8" y="1339.25" width="2.2" height="4.25"/>
<rect x="662.92" y="1343.5" width="4.4" height="305.8"/>
<rect x="665.12" y="1333.75" width="2.2" height="9.75"/>
<rect x="763.67" y="1173" width="4.4" height="476.3"/>
<rect x="763.67" y="1167.5" width="2.2" height="5.5"/>
<rect x="804.92" y="1145" width="4.4" height="504.3"/>
<rect x="807.12" y="1134.25" width="2.2" height="10.75"/>
<rect x="905.3" y="1205.75" width="4.4" height="443.55"/>
<rect x="905.3" y="1125.5" width="2.2" height="80.25"/>
<rect x="987.55" y="1093" width="4.4" height="556.3"/>
<rect x="989.75" y="1062" width="2.2" height="31"/>
<rect x="1027.42" y="1042.5" width="4.4" height="606.8"/>
</g>
<g fill="#000090">
<rect x="843.4" y="1104.25" width="7.2" height="545.05" opacity="0.7"/>
<rect x="847" y="1077.5" width="3.6" height="26.75" opacity="0.7"/>
<rect x="1086.78" y="1058.75" width="7.2" height="590.55" opacity="0.7"/>
<rect x="1090.38" y="1049.5" width="3.6" height="9.25" opacity="0.7"/>
<rect x="240.75" y="1570" width="2.4" height="79.3" opacity="0.9"/>
<rect x="240.75" y="1570" width="19.12" height="2.6" opacity="0.95"/>
<rect x="276.55" y="1569.5" width="2.4" height="79.8" opacity="0.9"/>
<rect x="259.88" y="1569.5" width="19.07" height="2.6" opacity="0.95"/>
<rect x="281.05" y="1563.25" width="2.4" height="86.05" opacity="0.9"/>
<rect x="297.8" y="1563.25" width="2.4" height="86.05" opacity="0.9"/>
<rect x="281.05" y="1563.25" width="19.15" height="2.6" opacity="0.95"/>
<rect x="303.05" y="1553" width="2.4" height="96.3" opacity="0.9"/>
<rect x="317.05" y="1553" width="2.4" height="96.3" opacity="0.9"/>
<rect x="303.05" y="1553" width="16.4" height="2.6" opacity="0.95"/>
<rect x="322.3" y="1550.5" width="2.4" height="98.8" opacity="0.9"/>
<rect x="336.55" y="1550.5" width="2.4" height="98.8" opacity="0.9"/>
<rect x="322.3" y="1550.5" width="16.65" height="2.6" opacity="0.95"/>
<rect x="343.55" y="1548" width="2.4" height="101.3" opacity="0.9"/>
<rect x="357.8" y="1548" width="2.4" height="101.3" opacity="0.9"/>
<rect x="343.55" y="1548" width="16.65" height="2.6" opacity="0.95"/>
<rect x="362.8" y="1546.25" width="2.4" height="103.05" opacity="0.9"/>
<rect x="377.05" y="1546.25" width="2.4" height="103.05" opacity="0.9"/>
<rect x="362.8" y="1546.25" width="16.65" height="2.6" opacity="0.95"/>
<rect x="382.3" y="1538.75" width="2.4" height="110.55" opacity="0.9"/>
<rect x="398.55" y="1538.75" width="2.4" height="110.55" opacity="0.9"/>
<rect x="382.3" y="1538.75" width="18.65" height="2.6" opacity="0.95"/>
<rect x="404.05" y="1528" width="2.4" height="121.3" opacity="0.9"/>
<rect x="404.05" y="1528" width="19.07" height="2.6" opacity="0.95"/>
<rect x="439.05" y="1529.5" width="2.4" height="119.8" opacity="0.9"/>
<rect x="423.12" y="1529.5" width="18.32" height="2.6" opacity="0.95"/>
<rect x="444.8" y="1515" width="2.4" height="134.3" opacity="0.9"/>
<rect x="458.55" y="1515" width="2.4" height="134.3" opacity="0.9"/>
<rect x="444.8" y="1515" width="16.15" height="2.6" opacity="0.95"/>
<rect x="464.05" y="1501.25" width="2.4" height="148.05" opacity="0.9"/>
<rect x="480.3" y="1501.25" width="2.4" height="148.05" opacity="0.9"/>
<rect x="464.05" y="1501.25" width="18.65" height="2.6" opacity="0.95"/>
<rect x="485.55" y="1477" width="2.4" height="172.3" opacity="0.9"/>
<rect x="499.55" y="1477" width="2.4" height="172.3" opacity="0.9"/>
<rect x="485.55" y="1477" width="16.4" height="2.6" opacity="0.95"/>
<rect x="504.8" y="1458" width="2.4" height="191.3" opacity="0.9"/>
<rect x="518.8" y="1458" width="2.4" height="191.3" opacity="0.9"/>
<rect x="504.8" y="1458" width="16.4" height="2.6" opacity="0.95"/>
<rect x="526.55" y="1444.5" width="2.4" height="204.8" opacity="0.9"/>
<rect x="540.3" y="1444.5" width="2.4" height="204.8" opacity="0.9"/>
<rect x="526.55" y="1444.5" width="16.15" height="2.6" opacity="0.95"/>
<rect x="545.55" y="1428.75" width="2.4" height="220.55" opacity="0.9"/>
<rect x="559.55" y="1428.75" width="2.4" height="220.55" opacity="0.9"/>
<rect x="545.55" y="1428.75" width="16.4" height="2.6" opacity="0.95"/>
<rect x="564.8" y="1409.25" width="2.4" height="240.05" opacity="0.9"/>
<rect x="579.55" y="1409.25" width="2.4" height="240.05" opacity="0.9"/>
<rect x="564.8" y="1409.25" width="17.15" height="2.6" opacity="0.95"/>
<rect x="586.05" y="1387.5" width="2.4" height="261.8" opacity="0.9"/>
<rect x="599.8" y="1387.5" width="2.4" height="261.8" opacity="0.9"/>
<rect x="586.05" y="1387.5" width="16.15" height="2.6" opacity="0.95"/>
<rect x="605.55" y="1368.75" width="2.4" height="280.55" opacity="0.9"/>
<rect x="605.55" y="1368.75" width="18.83" height="2.6" opacity="0.95"/>
<rect x="624.38" y="1339.25" width="19.62" height="2.6" opacity="0.95"/>
<rect x="644" y="1343.5" width="21.12" height="2.6" opacity="0.95"/>
<rect x="681.55" y="1333.75" width="2.4" height="315.55" opacity="0.9"/>
<rect x="665.12" y="1333.75" width="18.83" height="2.6" opacity="0.95"/>
<rect x="687.3" y="1292" width="2.4" height="357.3" opacity="0.9"/>
<rect x="700.8" y="1292" width="2.4" height="357.3" opacity="0.9"/>
<rect x="687.3" y="1292" width="15.9" height="2.6" opacity="0.95"/>
<rect x="709.05" y="1243.25" width="2.4" height="406.05" opacity="0.9"/>
<rect x="722.3" y="1243.25" width="2.4" height="406.05" opacity="0.9"/>
<rect x="709.05" y="1243.25" width="15.65" height="2.6" opacity="0.95"/>
<rect x="728.05" y="1226.75" width="2.4" height="422.55" opacity="0.9"/>
<rect x="741.55" y="1226.75" width="2.4" height="422.55" opacity="0.9"/>
<rect x="728.05" y="1226.75" width="15.9" height="2.6" opacity="0.95"/>
<rect x="747.3" y="1167.5" width="2.4" height="481.8" opacity="0.9"/>
<rect x="747.3" y="1167.5" width="18.58" height="2.6" opacity="0.95"/>
<rect x="782.8" y="1173" width="2.4" height="476.3" opacity="0.9"/>
<rect x="765.88" y="1173" width="19.33" height="2.6" opacity="0.95"/>
<rect x="788.05" y="1145" width="2.4" height="504.3" opacity="0.9"/>
<rect x="788.05" y="1145" width="19.08" height="2.6" opacity="0.95"/>
<rect x="823.3" y="1134.25" width="2.4" height="515.05" opacity="0.9"/>
<rect x="807.12" y="1134.25" width="18.58" height="2.6" opacity="0.95"/>
<rect x="829.8" y="1104.25" width="2.4" height="545.05" opacity="0.9"/>
<rect x="829.8" y="1104.25" width="17.2" height="2.6" opacity="0.95"/>
<rect x="864.05" y="1077.5" width="2.4" height="571.8" opacity="0.9"/>
<rect x="847" y="1077.5" width="19.45" height="2.6" opacity="0.95"/>
<rect x="869.3" y="1107.5" width="2.4" height="541.8" opacity="0.9"/>
<rect x="883.3" y="1107.5" width="2.4" height="541.8" opacity="0.9"/>
<rect x="869.3" y="1107.5" width="16.4" height="2.6" opacity="0.95"/>
<rect x="891.05" y="1125.5" width="2.4" height="523.8" opacity="0.9"/>
<rect x="891.05" y="1125.5" width="16.45" height="2.6" opacity="0.95"/>
<rect x="924.05" y="1205.75" width="2.4" height="443.55" opacity="0.9"/>
<rect x="907.5" y="1205.75" width="18.95" height="2.6" opacity="0.95"/>
<rect x="929.3" y="1176.25" width="2.4" height="473.05" opacity="0.9"/>
<rect x="943.3" y="1176.25" width="2.4" height="473.05" opacity="0.9"/>
<rect x="929.3" y="1176.25" width="16.4" height="2.6" opacity="0.95"/>
<rect x="948.55" y="1154.5" width="2.4" height="494.8" opacity="0.9"/>
<rect x="964.8" y="1154.5" width="2.4" height="494.8" opacity="0.9"/>
<rect x="948.55" y="1154.5" width="18.65" height="2.6" opacity="0.95"/>
<rect x="970.3" y="1093" width="2.4" height="556.3" opacity="0.9"/>
<rect x="970.3" y="1093" width="19.45" height="2.6" opacity="0.95"/>
<rect x="1005.3" y="1062" width="2.4" height="587.3" opacity="0.9"/>
<rect x="989.75" y="1062" width="17.95" height="2.6" opacity="0.95"/>
<rect x="1011.05" y="1042.5" width="2.4" height="606.8" opacity="0.9"/>
<rect x="1011.05" y="1042.5" width="18.58" height="2.6" opacity="0.95"/>
<rect x="1046.55" y="1042.5" width="2.4" height="606.8" opacity="0.9"/>
<rect x="1029.62" y="1042.5" width="19.33" height="2.6" opacity="0.95"/>
<rect x="1051.8" y="1012" width="2.4" height="637.3" opacity="0.9"/>
<rect x="1065.3" y="1012" width="2.4" height="637.3" opacity="0.9"/>
<rect x="1051.8" y="1012" width="15.9" height="2.6" opacity="0.95"/>
<rect x="1073.55" y="1058.75" width="2.4" height="590.55" opacity="0.9"/>
<rect x="1073.55" y="1058.75" width="16.83" height="2.6" opacity="0.95"/>
<rect x="1106.55" y="1049.5" width="2.4" height="599.8" opacity="0.9"/>
<rect x="1090.38" y="1049.5" width="18.58" height="2.6" opacity="0.95"/>
<rect x="1111.8" y="993" width="2.4" height="656.3" opacity="0.9"/>
<rect x="1127.1" y="993" width="2.4" height="656.3" opacity="0.9"/>
<rect x="1111.8" y="993" width="17.7" height="2.6" opacity="0.95"/>
<rect x="240.75" y="1646.9" width="888.75" height="2.4" opacity="0.85"/>
</g>
<rect x="266.5" y="987" width="97" height="35.75" fill="#0000ff" stroke="#000088" stroke-width="3"/>
</g>
<g filter="url(#soft)">
<g stroke="#9c9c9c" stroke-width="4.6">
<line x1="229.75" y1="941.25" x2="229.75" y2="1666.25"/>
</g>
<g stroke="#808080" stroke-width="3.4">
<line x1="213.45" y1="993.75" x2="229.75" y2="993.75"/>
<line x1="213.45" y1="1156.75" x2="229.75" y2="1156.75"/>
<line x1="213.45" y1="1321.75" x2="229.75" y2="1321.75"/>
<line x1="213.45" y1="1485.5" x2="229.75" y2="1485.5"/>
<line x1="221.25" y1="1072.5" x2="229.75" y2="1072.5"/>
<line x1="221.25" y1="1238.75" x2="229.75" y2="1238.75"/>
<line x1="221.25" y1="1403.25" x2="229.75" y2="1403.25"/>
<line x1="221.25" y1="1568" x2="229.75" y2="1568"/>
</g>
<g stroke="#8a8a8a" stroke-width="2.4">
<line x1="330.5" y1="1649.3" x2="330.5" y2="1657.8"/>
<line x1="431.25" y1="1649.3" x2="431.25" y2="1665.8"/>
<line x1="533" y1="1649.3" x2="533" y2="1657.8"/>
<line x1="634.25" y1="1649.3" x2="634.25" y2="1665.8"/>
<line x1="734.5" y1="1649.3" x2="734.5" y2="1657.8"/>
<line x1="837.5" y1="1649.3" x2="837.5" y2="1665.8"/>
<line x1="937.5" y1="1649.3" x2="937.5" y2="1657.8"/>
<line x1="1039.25" y1="1649.3" x2="1039.25" y2="1665.8"/>
<line x1="1139.6" y1="1649.3" x2="1139.6" y2="1657.8"/>
</g>
<line x1="213.5" y1="1649.3" x2="1141.5" y2="1649.3" stroke="#2a2a2a" stroke-width="2.6"/>
<text class="yl" x="25.4" y="1020">2x10</text><text class="sp" x="183.5" y="977.5">4</text>
<text class="yl" x="25.4" y="1183.25">2x10</text><text class="sp" x="183.5" y="1140.75">4</text>
<text class="yl" x="25.4" y="1345.75">1x10</text><text class="sp" x="183.5" y="1303.25">4</text>
<text class="yl" x="25.4" y="1512.5">5x10</text><text class="sp" x="183.5" y="1470">3</text>
<text class="yl" x="165" y="1662">0</text>
<text class="xl" x="229.65" y="1718.2">1970</text>
<text class="xl" x="431.15" y="1718.2">1980</text>
<text class="xl" x="634.15" y="1718.2">1990</text>
<text class="xl" x="836.9" y="1718.2">2000</text>
<text class="xl" x="1038.9" y="1718.2">2010</text>
<text class="ti" x="686" y="1786">Year</text>
<text class="lg" x="380.85" y="1021.25" textLength="397.5" lengthAdjust="spacing">Import (KTOE)</text>
</g>
</g>
<g id="c4">
<g filter="url(#softb)">
<g fill="#ffd0a0">
<rect x="1411.45" y="1528.75" width="4.1" height="120.55"/>
<rect x="1432.7" y="1526.25" width="2.85" height="123.05"/>
<rect x="1451.95" y="1524.25" width="2.85" height="125.05"/>
<rect x="1473.45" y="1524.25" width="2.6" height="125.05"/>
<rect x="1533.45" y="1502.5" width="2.6" height="146.8"/>
<rect x="1554.7" y="1481.25" width="2.6" height="168.05"/>
<rect x="1573.95" y="1472" width="2.85" height="177.3"/>
<rect x="1593.2" y="1461.25" width="4.85" height="188.05"/>
<rect x="1615.2" y="1455.5" width="2.85" height="193.8"/>
<rect x="1633.95" y="1439.5" width="3.35" height="209.8"/>
<rect x="1655.95" y="1426.25" width="2.6" height="223.05"/>
<rect x="1715.7" y="1361.25" width="2.85" height="288.05"/>
<rect x="1736.95" y="1337" width="2.85" height="312.3"/>
<rect x="1755.95" y="1315" width="3.35" height="334.3"/>
<rect x="1796.95" y="1299.5" width="3.35" height="349.8"/>
<rect x="1815.95" y="1299.5" width="3.35" height="349.8"/>
<rect x="1837.7" y="1285" width="2.85" height="364.3"/>
<rect x="1898.45" y="1192" width="2.1" height="457.3"/>
<rect x="1938.95" y="1121.75" width="2.6" height="527.55"/>
<rect x="1958.95" y="1091.25" width="2.6" height="558.05"/>
<rect x="1978.95" y="1084.25" width="3.35" height="565.05"/>
<rect x="1998.95" y="1111.25" width="2.6" height="538.05"/>
<rect x="2020.2" y="1115" width="2.6" height="534.3"/>
<rect x="2040.2" y="1115" width="2.1" height="534.3"/>
<rect x="2080.2" y="1093" width="3.1" height="556.3"/>
<rect x="2120.7" y="1105.75" width="3.35" height="543.55"/>
<rect x="2140.7" y="1105.75" width="2.6" height="543.55"/>
<rect x="2180.7" y="1106.25" width="3.1" height="543.05"/>
<rect x="2221.7" y="1080" width="2.85" height="569.3"/>
<rect x="2262.45" y="1023.25" width="3.35" height="626.05"/>
</g>
<g fill="#ff8400">
<rect x="1394.5" y="1528.75" width="17.15" height="120.55"/>
<rect x="1415.35" y="1526.25" width="17.55" height="123.05"/>
<rect x="1435.35" y="1520" width="16.8" height="129.3"/>
<rect x="1454.6" y="1524.25" width="19.05" height="125.05"/>
<rect x="1475.85" y="1505" width="19.53" height="144.3"/>
<rect x="1495.38" y="1507.5" width="19" height="141.8"/>
<rect x="1514.38" y="1502.5" width="19.28" height="146.8"/>
<rect x="1535.85" y="1481.25" width="19.05" height="168.05"/>
<rect x="1557.1" y="1472" width="17.05" height="177.3"/>
<rect x="1576.6" y="1461.25" width="16.8" height="188.05"/>
<rect x="1597.85" y="1455.5" width="17.55" height="193.8"/>
<rect x="1617.85" y="1439.5" width="16.3" height="209.8"/>
<rect x="1637.1" y="1426.25" width="19.05" height="223.05"/>
<rect x="1658.35" y="1397.25" width="19.15" height="252.05"/>
<rect x="1677.5" y="1378" width="19.38" height="271.3"/>
<rect x="1696.88" y="1361.25" width="19.03" height="288.05"/>
<rect x="1718.35" y="1337" width="18.8" height="312.3"/>
<rect x="1739.6" y="1315" width="16.55" height="334.3"/>
<rect x="1759.1" y="1299.75" width="18.78" height="349.55"/>
<rect x="1777.88" y="1296.25" width="19.28" height="353.05"/>
<rect x="1800.1" y="1299.5" width="16.05" height="349.8"/>
<rect x="1819.1" y="1285" width="18.8" height="364.3"/>
<rect x="1840.35" y="1233.75" width="19.4" height="415.55"/>
<rect x="1859.75" y="1214.5" width="19.38" height="434.8"/>
<rect x="1879.12" y="1192" width="19.53" height="457.3"/>
<rect x="1900.35" y="1127" width="19.53" height="522.3"/>
<rect x="1919.88" y="1121.75" width="19.28" height="527.55"/>
<rect x="1941.35" y="1091.25" width="17.8" height="558.05"/>
<rect x="1961.35" y="1050.75" width="17.8" height="598.55"/>
<rect x="1982.1" y="1084.25" width="17.05" height="565.05"/>
<rect x="2001.35" y="1111.25" width="19.05" height="538.05"/>
<rect x="2022.6" y="1115" width="17.8" height="534.3"/>
<rect x="2042.1" y="1100" width="19.28" height="549.3"/>
<rect x="2061.38" y="1069.25" width="19.03" height="580.05"/>
<rect x="2083.1" y="1093" width="18.78" height="556.3"/>
<rect x="2101.88" y="1105.75" width="19.03" height="543.55"/>
<rect x="2123.85" y="1070.75" width="17.05" height="578.55"/>
<rect x="2143.1" y="1105.75" width="19.03" height="543.55"/>
<rect x="2162.12" y="1106.25" width="18.78" height="543.05"/>
<rect x="2183.6" y="1093" width="19.28" height="556.3"/>
<rect x="2202.88" y="1080" width="19.03" height="569.3"/>
<rect x="2224.35" y="1050" width="19.15" height="599.3"/>
<rect x="2243.5" y="1023.25" width="19.15" height="626.05"/>
<rect x="2265.6" y="993" width="17.9" height="656.3"/>
</g>
<g fill="#c88848" opacity="0.9">
<rect x="1493.17" y="1507.5" width="4.4" height="141.8"/>
<rect x="1493.17" y="1505" width="2.2" height="2.5"/>
<rect x="1512.17" y="1507.5" width="4.4" height="141.8"/>
<rect x="1514.38" y="1502.5" width="2.2" height="5"/>
<rect x="1675.3" y="1397.25" width="4.4" height="252.05"/>
<rect x="1677.5" y="1378" width="2.2" height="19.25"/>
<rect x="1694.67" y="1378" width="4.4" height="271.3"/>
<rect x="1696.88" y="1361.25" width="2.2" height="16.75"/>
<rect x="1775.67" y="1299.75" width="4.4" height="349.55"/>
<rect x="1777.88" y="1296.25" width="2.2" height="3.5"/>
<rect x="1857.55" y="1233.75" width="4.4" height="415.55"/>
<rect x="1859.75" y="1214.5" width="2.2" height="19.25"/>
<rect x="1917.67" y="1127" width="4.4" height="522.3"/>
<rect x="1919.88" y="1121.75" width="2.2" height="5.25"/>
<rect x="2059.18" y="1100" width="4.4" height="549.3"/>
<rect x="2061.38" y="1069.25" width="2.2" height="30.75"/>
<rect x="2159.93" y="1106.25" width="4.4" height="543.05"/>
<rect x="2159.93" y="1105.75" width="2.2" height="0.5"/>
<rect x="2200.68" y="1093" width="4.4" height="556.3"/>
<rect x="2202.88" y="1080" width="2.2" height="13"/>
<rect x="2241.3" y="1050" width="4.4" height="599.3"/>
<rect x="2243.5" y="1023.25" width="2.2" height="26.75"/>
</g>
<g fill="#853a00">
<rect x="1876.53" y="1214.5" width="5.2" height="434.8" opacity="0.9"/>
<rect x="1879.12" y="1192" width="2.6" height="22.5" opacity="0.9"/>
<rect x="2099.28" y="1105.75" width="5.2" height="543.55" opacity="0.9"/>
<rect x="2099.28" y="1093" width="2.6" height="12.75" opacity="0.9"/>
<rect x="1394.5" y="1528.75" width="2.4" height="120.55" opacity="1"/>
<rect x="1409.25" y="1528.75" width="2.4" height="120.55" opacity="1"/>
<rect x="1394.5" y="1528.75" width="17.15" height="2.6" opacity="0.95"/>
<rect x="1415.35" y="1526.25" width="2.4" height="123.05" opacity="1"/>
<rect x="1430.5" y="1526.25" width="2.4" height="123.05" opacity="1"/>
<rect x="1415.35" y="1526.25" width="17.55" height="2.6" opacity="0.95"/>
<rect x="1435.35" y="1520" width="2.4" height="129.3" opacity="1"/>
<rect x="1449.75" y="1520" width="2.4" height="129.3" opacity="1"/>
<rect x="1435.35" y="1520" width="16.8" height="2.6" opacity="0.95"/>
<rect x="1454.6" y="1524.25" width="2.4" height="125.05" opacity="1"/>
<rect x="1471.25" y="1524.25" width="2.4" height="125.05" opacity="1"/>
<rect x="1454.6" y="1524.25" width="19.05" height="2.6" opacity="0.95"/>
<rect x="1475.85" y="1505" width="2.4" height="144.3" opacity="1"/>
<rect x="1475.85" y="1505" width="19.53" height="2.6" opacity="0.95"/>
<rect x="1495.38" y="1507.5" width="19" height="2.6" opacity="0.95"/>
<rect x="1531.25" y="1502.5" width="2.4" height="146.8" opacity="1"/>
<rect x="1514.38" y="1502.5" width="19.28" height="2.6" opacity="0.95"/>
<rect x="1535.85" y="1481.25" width="2.4" height="168.05" opacity="1"/>
<rect x="1552.5" y="1481.25" width="2.4" height="168.05" opacity="1"/>
<rect x="1535.85" y="1481.25" width="19.05" height="2.6" opacity="0.95"/>
<rect x="1557.1" y="1472" width="2.4" height="177.3" opacity="1"/>
<rect x="1571.75" y="1472" width="2.4" height="177.3" opacity="1"/>
<rect x="1557.1" y="1472" width="17.05" height="2.6" opacity="0.95"/>
<rect x="1576.6" y="1461.25" width="2.4" height="188.05" opacity="1"/>
<rect x="1591" y="1461.25" width="2.4" height="188.05" opacity="1"/>
<rect x="1576.6" y="1461.25" width="16.8" height="2.6" opacity="0.95"/>
<rect x="1597.85" y="1455.5" width="2.4" height="193.8" opacity="1"/>
<rect x="1613" y="1455.5" width="2.4" height="193.8" opacity="1"/>
<rect x="1597.85" y="1455.5" width="17.55" height="2.6" opacity="0.95"/>
<rect x="1617.85" y="1439.5" width="2.4" height="209.8" opacity="1"/>
<rect x="1631.75" y="1439.5" width="2.4" height="209.8" opacity="1"/>
<rect x="1617.85" y="1439.5" width="16.3" height="2.6" opacity="0.95"/>
<rect x="1637.1" y="1426.25" width="2.4" height="223.05" opacity="1"/>
<rect x="1653.75" y="1426.25" width="2.4" height="223.05" opacity="1"/>
<rect x="1637.1" y="1426.25" width="19.05" height="2.6" opacity="0.95"/>
<rect x="1658.35" y="1397.25" width="2.4" height="252.05" opacity="1"/>
<rect x="1658.35" y="1397.25" width="19.15" height="2.6" opacity="0.95"/>
<rect x="1677.5" y="1378" width="19.38" height="2.6" opacity="0.95"/>
<rect x="1713.5" y="1361.25" width="2.4" height="288.05" opacity="1"/>
<rect x="1696.88" y="1361.25" width="19.03" height="2.6" opacity="0.95"/>
<rect x="1718.35" y="1337" width="2.4" height="312.3" opacity="1"/>
<rect x="1734.75" y="1337" width="2.4" height="312.3" opacity="1"/>
<rect x="1718.35" y="1337" width="18.8" height="2.6" opacity="0.95"/>
<rect x="1739.6" y="1315" width="2.4" height="334.3" opacity="1"/>
<rect x="1753.75" y="1315" width="2.4" height="334.3" opacity="1"/>
<rect x="1739.6" y="1315" width="16.55" height="2.6" opacity="0.95"/>
<rect x="1759.1" y="1299.75" width="2.4" height="349.55" opacity="1"/>
<rect x="1759.1" y="1299.75" width="18.78" height="2.6" opacity="0.95"/>
<rect x="1794.75" y="1296.25" width="2.4" height="353.05" opacity="1"/>
<rect x="1777.88" y="1296.25" width="19.28" height="2.6" opacity="0.95"/>
<rect x="1800.1" y="1299.5" width="2.4" height="349.8" opacity="1"/>
<rect x="1813.75" y="1299.5" width="2.4" height="349.8" opacity="1"/>
<rect x="1800.1" y="1299.5" width="16.05" height="2.6" opacity="0.95"/>
<rect x="1819.1" y="1285" width="2.4" height="364.3" opacity="1"/>
<rect x="1835.5" y="1285" width="2.4" height="364.3" opacity="1"/>
<rect x="1819.1" y="1285" width="18.8" height="2.6" opacity="0.95"/>
<rect x="1840.35" y="1233.75" width="2.4" height="415.55" opacity="1"/>
<rect x="1840.35" y="1233.75" width="19.4" height="2.6" opacity="0.95"/>
<rect x="1859.75" y="1214.5" width="19.38" height="2.6" opacity="0.95"/>
<rect x="1896.25" y="1192" width="2.4" height="457.3" opacity="1"/>
<rect x="1879.12" y="1192" width="19.53" height="2.6" opacity="0.95"/>
<rect x="1900.35" y="1127" width="2.4" height="522.3" opacity="1"/>
<rect x="1900.35" y="1127" width="19.53" height="2.6" opacity="0.95"/>
<rect x="1936.75" y="1121.75" width="2.4" height="527.55" opacity="1"/>
<rect x="1919.88" y="1121.75" width="19.28" height="2.6" opacity="0.95"/>
<rect x="1941.35" y="1091.25" width="2.4" height="558.05" opacity="1"/>
<rect x="1956.75" y="1091.25" width="2.4" height="558.05" opacity="1"/>
<rect x="1941.35" y="1091.25" width="17.8" height="2.6" opacity="0.95"/>
<rect x="1961.35" y="1050.75" width="2.4" height="598.55" opacity="1"/>
<rect x="1976.75" y="1050.75" width="2.4" height="598.55" opacity="1"/>
<rect x="1961.35" y="1050.75" width="17.8" height="2.6" opacity="0.95"/>
<rect x="1982.1" y="1084.25" width="2.4" height="565.05" opacity="1"/>
<rect x="1996.75" y="1084.25" width="2.4" height="565.05" opacity="1"/>
<rect x="1982.1" y="1084.25" width="17.05" height="2.6" opacity="0.95"/>
<rect x="2001.35" y="1111.25" width="2.4" height="538.05" opacity="1"/>
<rect x="2018" y="1111.25" width="2.4" height="538.05" opacity="1"/>
<rect x="2001.35" y="1111.25" width="19.05" height="2.6" opacity="0.95"/>
<rect x="2022.6" y="1115" width="2.4" height="534.3" opacity="1"/>
<rect x="2038" y="1115" width="2.4" height="534.3" opacity="1"/>
<rect x="2022.6" y="1115" width="17.8" height="2.6" opacity="0.95"/>
<rect x="2042.1" y="1100" width="2.4" height="549.3" opacity="1"/>
<rect x="2042.1" y="1100" width="19.28" height="2.6" opacity="0.95"/>
<rect x="2078" y="1069.25" width="2.4" height="580.05" opacity="1"/>
<rect x="2061.38" y="1069.25" width="19.03" height="2.6" opacity="0.95"/>
<rect x="2083.1" y="1093" width="2.4" height="556.3" opacity="1"/>
<rect x="2083.1" y="1093" width="18.78" height="2.6" opacity="0.95"/>
<rect x="2118.5" y="1105.75" width="2.4" height="543.55" opacity="1"/>
<rect x="2101.88" y="1105.75" width="19.03" height="2.6" opacity="0.95"/>
<rect x="2123.85" y="1070.75" width="2.4" height="578.55" opacity="1"/>
<rect x="2138.5" y="1070.75" width="2.4" height="578.55" opacity="1"/>
<rect x="2123.85" y="1070.75" width="17.05" height="2.6" opacity="0.95"/>
<rect x="2143.1" y="1105.75" width="2.4" height="543.55" opacity="1"/>
<rect x="2143.1" y="1105.75" width="19.03" height="2.6" opacity="0.95"/>
<rect x="2178.5" y="1106.25" width="2.4" height="543.05" opacity="1"/>
<rect x="2162.12" y="1106.25" width="18.78" height="2.6" opacity="0.95"/>
<rect x="2183.6" y="1093" width="2.4" height="556.3" opacity="1"/>
<rect x="2183.6" y="1093" width="19.28" height="2.6" opacity="0.95"/>
<rect x="2219.5" y="1080" width="2.4" height="569.3" opacity="1"/>
<rect x="2202.88" y="1080" width="19.03" height="2.6" opacity="0.95"/>
<rect x="2224.35" y="1050" width="2.4" height="599.3" opacity="1"/>
<rect x="2224.35" y="1050" width="19.15" height="2.6" opacity="0.95"/>
<rect x="2260.25" y="1023.25" width="2.4" height="626.05" opacity="1"/>
<rect x="2243.5" y="1023.25" width="19.15" height="2.6" opacity="0.95"/>
<rect x="2265.6" y="993" width="2.4" height="656.3" opacity="1"/>
<rect x="2281.1" y="993" width="2.4" height="656.3" opacity="1"/>
<rect x="2265.6" y="993" width="17.9" height="2.6" opacity="0.95"/>
<rect x="1394.5" y="1646.9" width="889" height="2.4" opacity="0.85"/>
</g>
<rect x="1404.5" y="975.75" width="96.5" height="36.5" fill="#ff8400" stroke="#7a3400" stroke-width="3"/>
</g>
<g filter="url(#soft)">
<g stroke="#000000" stroke-width="2.2">
<line x1="1382.4" y1="941.25" x2="1382.4" y2="1666.25"/>
</g>
<g stroke="#404040" stroke-width="2.5">
<line x1="1366.1" y1="1010" x2="1382.4" y2="1010"/>
<line x1="1366.1" y1="1102" x2="1382.4" y2="1102"/>
<line x1="1366.1" y1="1192" x2="1382.4" y2="1192"/>
<line x1="1366.1" y1="1285" x2="1382.4" y2="1285"/>
<line x1="1366.1" y1="1375.75" x2="1382.4" y2="1375.75"/>
<line x1="1366.1" y1="1467" x2="1382.4" y2="1467"/>
<line x1="1366.1" y1="1558.75" x2="1382.4" y2="1558.75"/>
<line x1="1373.9" y1="963.75" x2="1382.4" y2="963.75"/>
<line x1="1373.9" y1="1054.5" x2="1382.4" y2="1054.5"/>
<line x1="1373.9" y1="1147.5" x2="1382.4" y2="1147.5"/>
<line x1="1373.9" y1="1238.75" x2="1382.4" y2="1238.75"/>
<line x1="1373.9" y1="1331.25" x2="1382.4" y2="1331.25"/>
<line x1="1373.9" y1="1421.75" x2="1382.4" y2="1421.75"/>
<line x1="1373.9" y1="1513.75" x2="1382.4" y2="1513.75"/>
<line x1="1373.9" y1="1604.5" x2="1382.4" y2="1604.5"/>
</g>
<g stroke="#8a8a8a" stroke-width="2.4">
<line x1="1483.5" y1="1649.3" x2="1483.5" y2="1657.8"/>
<line x1="1585" y1="1649.3" x2="1585" y2="1665.8"/>
<line x1="1685.5" y1="1649.3" x2="1685.5" y2="1657.8"/>
<line x1="1787.5" y1="1649.3" x2="1787.5" y2="1665.8"/>
<line x1="1888" y1="1649.3" x2="1888" y2="1657.8"/>
<line x1="1989.2" y1="1649.3" x2="1989.2" y2="1665.8"/>
<line x1="2092" y1="1649.3" x2="2092" y2="1657.8"/>
<line x1="2192.6" y1="1649.3" x2="2192.6" y2="1665.8"/>
<line x1="2293.5" y1="1649.3" x2="2293.5" y2="1657.8"/>
</g>
<line x1="1367.4" y1="1649.3" x2="2294" y2="1649.3" stroke="#2a2a2a" stroke-width="2.6"/>
<text class="yl" x="1178.5" y="1037">1x10</text><text class="sp" x="1336" y="994.5">4</text>
<text class="yl" x="1178.5" y="1127">1x10</text><text class="sp" x="1336" y="1084.5">4</text>
<text class="yl" x="1178.5" y="1219">1x10</text><text class="sp" x="1336" y="1176.5">4</text>
<text class="yl" x="1178.5" y="1310.75">8x10</text><text class="sp" x="1336" y="1268.25">3</text>
<text class="yl" x="1178.5" y="1401.5">6x10</text><text class="sp" x="1336" y="1359">3</text>
<text class="yl" x="1178.5" y="1492.75">4x10</text><text class="sp" x="1336" y="1450.25">3</text>
<text class="yl" x="1178.5" y="1585.75">2x10</text><text class="sp" x="1336" y="1543.25">3</text>
<text class="yl" x="1318.4" y="1662">0</text>
<text class="xl" x="1382.8" y="1718.2">1970</text>
<text class="xl" x="1584.8" y="1718.2">1980</text>
<text class="xl" x="1786.7" y="1718.2">1990</text>
<text class="xl" x="1989.9" y="1718.2">2000</text>
<text class="xl" x="2191.7" y="1718.2">2010</text>
<text class="ti" x="1839.1" y="1786">Year</text>
<text class="lg" x="1520.85" y="1008.75" textLength="553" lengthAdjust="spacing">Consumption (KTOE)</text>
</g>
</g>
</svg>
</body></html>
